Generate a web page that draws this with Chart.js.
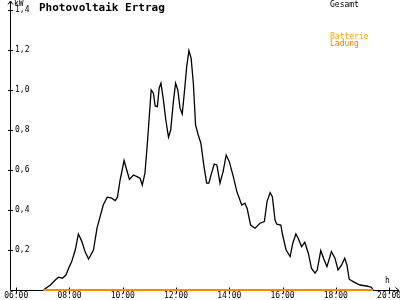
<!DOCTYPE html>
<html>
<head>
<meta charset="utf-8">
<script src="https://cdn.jsdelivr.net/npm/chart.js@4"></script>
<style>
  body { margin: 0; background: #fff; }
  #wrap { position: relative; width: 400px; height: 300px; }
  .lbl { position: absolute; font-family: "DejaVu Sans Mono", monospace; white-space: nowrap; }
</style>
</head>
<body>
<div id="wrap">
  <canvas id="pv" width="400" height="300"></canvas>
  <div class="lbl" id="title" style="left:39px; top:2px; font-size:11px; line-height:11px; font-weight:bold;">Photovoltaik Ertrag</div>
  <div class="lbl" style="left:14px; top:0px; font-size:8px; line-height:8px;">kW</div>
  <div class="lbl" style="left:385px; top:277px; font-size:8px; line-height:8px;">h</div>
  <div id="legend"></div>
</div>
<script>
// Ertrag in kW, Zeitpunkte als HH:MM
const times = [
  '07:01', '07:17', '07:28', '07:35', '07:44', '07:52', '07:58', '08:05', '08:13', '08:20',
  '08:28', '08:35', '08:43', '08:54', '09:02', '09:09', '09:16', '09:25', '09:35', '09:43',
  '09:48', '09:54', '10:03', '10:09', '10:15', '10:24', '10:32', '10:39', '10:44', '10:50',
  '10:56', '11:04', '11:09', '11:13', '11:18', '11:22', '11:26', '11:31', '11:37', '11:43',
  '11:48', '11:54', '11:59', '12:04', '12:09', '12:14', '12:20', '12:24', '12:29', '12:34',
  '12:39', '12:44', '12:50', '12:56', '13:03', '13:09', '13:14', '13:20', '13:26', '13:32',
  '13:39', '13:46', '13:53', '14:00', '14:09', '14:17', '14:28', '14:35', '14:40', '14:48',
  '14:58', '15:09', '15:19', '15:25', '15:32', '15:37', '15:43', '15:47', '15:56', '16:00',
  '16:08', '16:17', '16:23', '16:30', '16:35', '16:43', '16:50', '16:58', '17:05', '17:13',
  '17:18', '17:26', '17:33', '17:40', '17:50', '17:58', '18:05', '18:13', '18:20', '18:25',
  '18:30', '18:39', '18:54', '19:09', '19:20', '19:24',
];

const gesamt = [
  0, 0.025, 0.05, 0.064, 0.059, 0.075, 0.109, 0.142, 0.2, 0.28,
  0.242, 0.192, 0.155, 0.2, 0.309, 0.367, 0.425, 0.464, 0.459, 0.447,
  0.464, 0.55, 0.647, 0.6, 0.553, 0.575, 0.567, 0.559, 0.525, 0.584,
  0.75, 1.0, 0.984, 0.92, 0.917, 1.009, 1.034, 0.959, 0.85, 0.764,
  0.8, 0.942, 1.034, 1.0, 0.909, 0.88, 1.017, 1.117, 1.197, 1.159,
  1.034, 0.825, 0.775, 0.734, 0.617, 0.534, 0.534, 0.584, 0.63, 0.625,
  0.534, 0.592, 0.675, 0.642, 0.567, 0.492, 0.425, 0.434, 0.409, 0.325,
  0.309, 0.334, 0.342, 0.442, 0.487, 0.467, 0.35, 0.329, 0.325, 0.275,
  0.2, 0.167, 0.234, 0.28, 0.259, 0.217, 0.239, 0.184, 0.109, 0.084,
  0.1, 0.197, 0.154, 0.117, 0.192, 0.159, 0.1, 0.125, 0.159, 0.125,
  0.054, 0.042, 0.025, 0.02, 0.014, 0,
];

const batterieLadung = times.map(() => 0);

const xTicks = ['06:00', '08:00', '10:00', '12:00', '14:00', '16:00', '18:00', '20:00'];
const yTicks = [0.2, 0.4, 0.6, 0.8, 1.0, 1.2, 1.4];

const xMin = '05:46';
const xMax = '20:20';

const seriesNames = ['Gesamt', 'Batterie Ladung'];

function toMin(hhmm) {
  const [h, m] = hhmm.split(':').map(Number);
  return h * 60 + m;
}

function toHHMM(min) {
  const h = Math.floor(min / 60);
  const m = Math.round(min % 60);
  return `${String(h).padStart(2, '0')}:${String(m).padStart(2, '0')}`;
}

const MONO = '"DejaVu Sans Mono", monospace';
const ORANGE = '#ff8a00';

// Achsen mit Pfeilen und Kreuz-Ticks, wie im Original
const axesPlugin = {
  id: 'pvAxes',
  beforeDatasetsDraw(chart) {
    const { ctx, chartArea } = chart;
    const xs = chart.scales.x;
    const ys = chart.scales.y;
    const x0 = Math.round(chartArea.left) + 0.5;
    const y0 = Math.round(chartArea.bottom) + 0.5;
    const xEnd = 399;

    ctx.save();
    ctx.strokeStyle = '#000';
    ctx.lineWidth = 1;
    ctx.beginPath();
    ctx.moveTo(x0, 1);
    ctx.lineTo(x0, y0);
    ctx.lineTo(xEnd, y0);
    // Pfeil y
    ctx.moveTo(x0 - 2.5, 4.5);
    ctx.lineTo(x0, 1);
    ctx.lineTo(x0 + 2.5, 4.5);
    // Pfeil x
    ctx.moveTo(xEnd - 3.5, y0 - 3);
    ctx.lineTo(xEnd, y0);
    ctx.lineTo(xEnd - 3.5, y0 + 3);

    yTicks.forEach((v) => {
      const py = Math.round(ys.getPixelForValue(v)) + 0.5;
      ctx.moveTo(x0 - 2.5, py);
      ctx.lineTo(x0 + 2.5, py);
    });
    xTicks.forEach((t) => {
      const px = Math.round(xs.getPixelForValue(toMin(t))) + 0.5;
      ctx.moveTo(px, y0 - 3);
      ctx.lineTo(px, y0 + 3);
    });
    ctx.stroke();
    ctx.restore();
  },
};

function buildLegend() {
  const legend = document.getElementById('legend');
  const [first, second] = seriesNames[1].split(' ');
  legend.innerHTML = `
    <div class="lbl" style="left:330px; top:1px; font-size:8px; line-height:8px; color:#000;">${seriesNames[0]}</div>
    <div class="lbl" style="left:330px; top:33px; font-size:8px; line-height:7px;">
      <span style="color:#ffa200;">${first}</span><br>
      <span style="color:#ff8000;">${second}</span>
    </div>`;
}

buildLegend();

new Chart(document.getElementById('pv'), {
  type: 'line',
  data: {
    datasets: [
      {
        label: seriesNames[0],
        data: times.map((t, i) => ({ x: toMin(t), y: gesamt[i] })),
        borderColor: '#000',
        borderWidth: 1.3,
        pointRadius: 0,
        tension: 0,
        fill: false,
        clip: false,
        order: 2,
      },
      {
        label: seriesNames[1],
        data: times.map((t, i) => ({ x: toMin(t), y: batterieLadung[i] })),
        borderColor: ORANGE,
        borderWidth: 2,
        pointRadius: 0,
        tension: 0,
        fill: false,
        clip: false,
        order: 1,
      },
    ],
  },
  options: {
    responsive: false,
    animation: false,
    devicePixelRatio: 1,
    layout: { padding: { left: 0, right: 2, top: 10, bottom: 0 } },
    plugins: {
      legend: { display: false },
      tooltip: { enabled: false },
    },
    scales: {
      x: {
        type: 'linear',
        min: toMin(xMin),
        max: toMin(xMax),
        grid: { display: false, drawTicks: false },
        border: { display: false },
        afterBuildTicks: (scale) => {
          scale.ticks = xTicks.map((t) => ({ value: toMin(t) }));
        },
        afterFit: (scale) => {
          scale.height = 10;
          scale.paddingLeft = 0;
          scale.paddingRight = 0;
        },
        ticks: {
          autoSkip: false,
          maxRotation: 0,
          padding: 1,
          color: '#000',
          font: { family: MONO, size: 8 },
          callback: (v) => toHHMM(v),
        },
      },
      y: {
        min: 0,
        max: 1.4,
        grid: { display: false, drawTicks: false },
        border: { display: false },
        afterBuildTicks: (scale) => {
          scale.ticks = yTicks.map((v) => ({ value: v }));
        },
        afterFit: (scale) => {
          scale.width = 10;
          scale.paddingTop = 0;
          scale.paddingBottom = 0;
        },
        ticks: {
          mirror: true,
          padding: 5,
          color: '#000',
          font: { family: MONO, size: 8 },
          callback: (v) => v.toFixed(1).replace('.', ','),
        },
      },
    },
  },
  plugins: [axesPlugin],
});
</script>
</body>
</html>
